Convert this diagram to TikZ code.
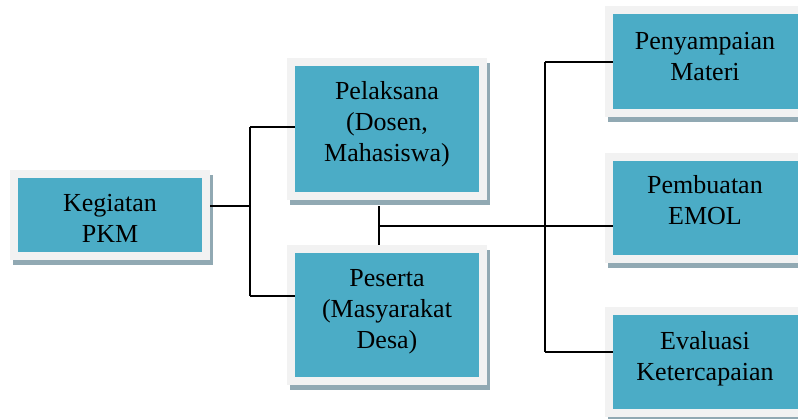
\documentclass[tikz,border=0pt]{standalone}
\usepackage{fontspec}
\setmainfont{Liberation Serif}
\usetikzlibrary{shadows}
\definecolor{boxteal}{HTML}{4BACC6}
\definecolor{framegrey}{HTML}{F2F2F2}
\definecolor{shadowc}{HTML}{91A9B3}
\tikzset{
  frame/.style={fill=framegrey, draw=none, inner sep=0pt,
    drop shadow={shadow xshift=3pt, shadow yshift=-5pt, fill=shadowc, opacity=1}},
  innerbox/.style={fill=boxteal, draw=none, inner sep=0pt},
  txt/.style={align=center, inner sep=0pt, font=\fontsize{26}{31}\selectfont, anchor=base},
  conn/.style={draw=black, line width=1.4pt}
}
\newcommand\pkmbox[5]{%
  \node[frame, minimum width=#4pt, minimum height=#5pt] (#1) at (#2,#3) {};
  \node[innerbox, minimum width=#4pt-16pt, minimum height=#5pt-16pt] (#1-in) at (#1) {};
}
\begin{document}
\begin{tikzpicture}[x=1pt, y=-1pt]
\useasboundingbox (0,0) rectangle (798,418);
\fill[white] (0,0) rectangle (798,418);
% boxes
\pkmbox{keg}{110}{215}{200}{90}
\pkmbox{pel}{387}{129}{200}{142}
\pkmbox{pes}{387}{315}{200}{140}
\pkmbox{pen}{705.5}{61.5}{201}{111}
\pkmbox{pem}{705.5}{208}{201}{110}
\pkmbox{eva}{705.5}{362}{201}{110}
% texts (anchor = baseline of last line)
\node[txt] (keg-t) at (110,242) {Kegiatan\\PKM};
\node[txt] (pel-t) at (387,161) {Pelaksana\\(Dosen,\\Mahasiswa)};
\node[txt] (pes-t) at (387,348) {Peserta\\(Masyarakat\\Desa)};
\node[txt] (pen-t) at (705,80) {Penyampaian\\Materi};
\node[txt] (pem-t) at (705,224) {Pembuatan\\EMOL};
\node[txt] (eva-t) at (705,380) {Evaluasi\\Ketercapaian};
% junctions
\coordinate (ja) at (250,206);
\coordinate (jtop) at (250,127);
\coordinate (jbot) at (250,296);
\coordinate (jm) at (379,226);
\coordinate (jr) at (545,226);
\coordinate (jrt) at (545,62);
\coordinate (jrb) at (545,352);
% connectors
\draw[conn] (keg.east |- ja) -- (ja);
\draw[conn] (jtop) -- (jbot);
\draw[conn] (jtop) -- (pel-in.west |- jtop);
\draw[conn] (jbot) -- (pes-in.west |- jbot);
\draw[conn] ([yshift=-6pt]pel.south -| jm) -- (pes.north -| jm);
\draw[conn] (jm) -- (jr);
\draw[conn] (jrt) -- (jrb);
\draw[conn] (jrt) -- (pen-in.west |- jrt);
\draw[conn] (jr) -- (pem-in.west |- jr);
\draw[conn] (jrb) -- (eva-in.west |- jrb);
\end{tikzpicture}
\end{document}
